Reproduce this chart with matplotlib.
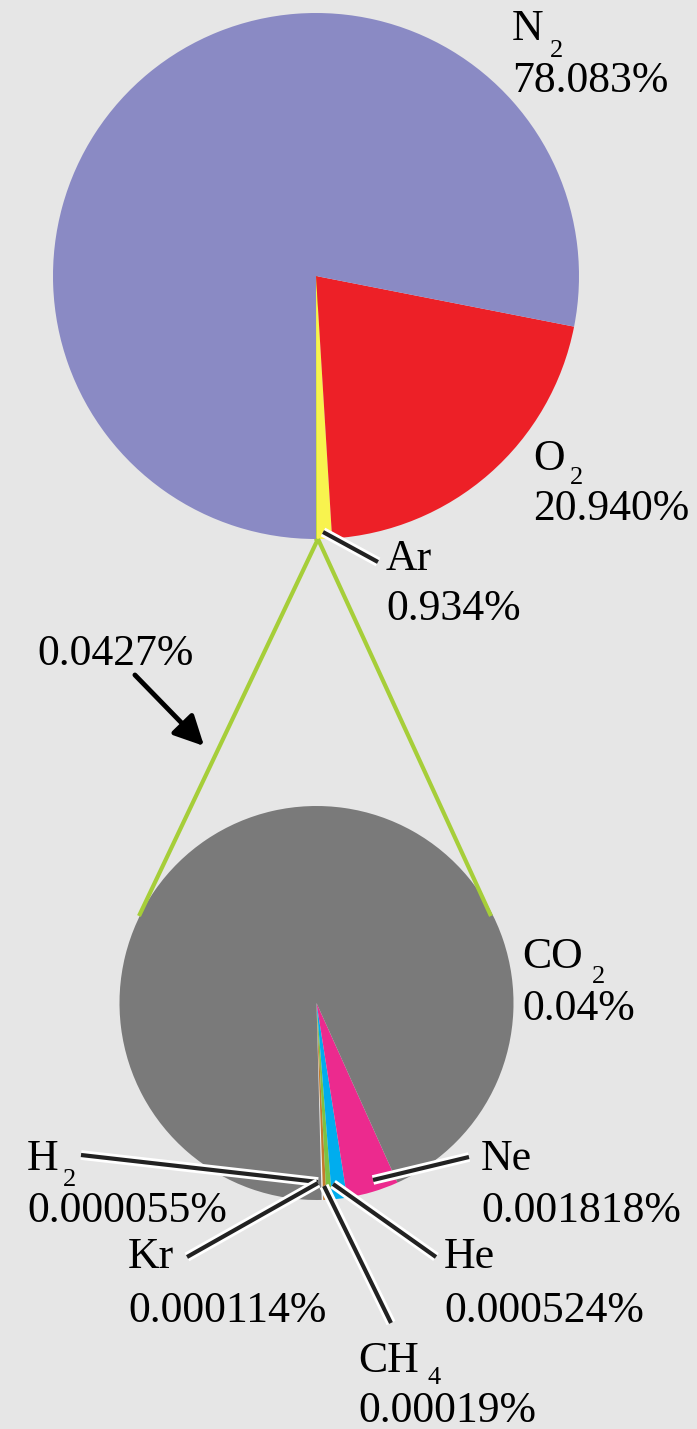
import matplotlib
matplotlib.use("Agg")
import matplotlib.pyplot as plt
import matplotlib.patheffects as pe
from matplotlib.patches import FancyArrowPatch

# Composition de l'air sec (% en volume)
gaz_principaux = ["traces", "Ar", "O2", "N2"]
part_principaux = [0.0427, 0.934, 20.940, 78.083]
coul_principaux = ["#a6ce39", "#f8f34e", "#ed2027", "#8a8ac4"]

gaz_traces = ["H2", "Kr", "CH4", "He", "Ne", "CO2"]
part_traces = [0.000055, 0.000114, 0.00019, 0.000524, 0.001818, 0.04]
coul_traces = ["#eeeeee", "#c47a2c", "#7dc242", "#00adee", "#ec2a8e", "#7a7a7a"]

# etiquettes : (symbole, indice, valeur)
etiq_principaux = [("N", "2", "78.083%"), ("O", "2", "20.940%"), ("Ar", "", "0.934%")]
etiq_traces = [("CO", "2", "0.04%"), ("Ne", "", "0.001818%"), ("He", "", "0.000524%"),
               ("CH", "4", "0.00019%"), ("Kr", "", "0.000114%"), ("H", "2", "0.000055%")]
etiq_zoom = "0.0427%"

W, H = 697, 1429
FOND = "#e6e6e6"
VERT = "#a6ce39"
POLICE = "Liberation Serif"


def Y(y):
    # coordonnees pixel (origine en haut) -> donnees
    return H - y


fig = plt.figure(figsize=(W / 100, H / 100), dpi=100, facecolor=FOND)
ax = fig.add_axes([0, 0, 1, 1])
ax.set_facecolor(FOND)

# camembert principal
w1, _ = ax.pie(part_principaux, colors=coul_principaux, startangle=-90,
               counterclock=True, center=(316, Y(276)), radius=263)
w1[0].set_edgecolor(VERT)
w1[0].set_linewidth(2.5)

# camembert des gaz traces
ax.pie(part_traces, colors=coul_traces, startangle=-88.5,
       counterclock=True, center=(316.5, Y(1003)), radius=197)

ax.set_xlim(0, W)
ax.set_ylim(0, H)
ax.set_aspect("auto")
ax.axis("off")

# lignes de zoom
for xf in (139, 491):
    ax.plot([318, xf], [Y(539), Y(916)], color=VERT, lw=3, solid_capstyle="butt", zorder=1)

# fleche
ax.add_patch(FancyArrowPatch((133, Y(673)), (206, Y(748)),
                             arrowstyle="-|>,head_length=1.0,head_width=0.5",
                             mutation_scale=18, lw=3.5, color="black"))

# traits de rappel
halo = [pe.Stroke(linewidth=7, foreground="white"), pe.Normal()]
traits = [((323, 532), (378, 562)),
          ((81, 1155), (318, 1182)),
          ((187, 1257), (318, 1183)),
          ((391, 1323), (324, 1186)),
          ((436, 1257), (333, 1184)),
          ((469, 1157), (373, 1180))]
for (xa, ya), (xb, yb) in traits:
    ax.plot([xa, xb], [Y(ya), Y(yb)], color="#222222", lw=3,
            solid_capstyle="butt", path_effects=halo, zorder=5)

TXT = dict(family=POLICE, fontsize=31.5, color="black", va="baseline", ha="left")
SUB = dict(family=POLICE, fontsize=19, color="black", va="baseline", ha="left")

# positions des etiquettes : (x, ligne symbole, x indice, ligne indice, ligne valeur)
pos_principaux = [(512, 40, 550, 57, 92), (533, 470, 570, 484, 520), (386, 570, 0, 0, 620)]
pos_traces = [(522, 968, 592, 983, 1020), (481, 1170, 0, 0, 1222), (444, 1268, 0, 0, 1322),
              (358, 1372, 428, 1384, 1422), (128, 1268, 0, 0, 1322), (27, 1170, 63, 1186, 1222)]

for (sym, ind, val), (x, ys, xi, yi, yv) in zip(etiq_principaux + etiq_traces,
                                               pos_principaux + pos_traces):
    ax.text(x, Y(ys), sym, **TXT)
    if ind:
        ax.text(xi, Y(yi), ind, **SUB)
    ax.text(x, Y(yv), val, **TXT)

ax.text(37, Y(665), etiq_zoom, **TXT)

fig.savefig("out.png", dpi=100, facecolor=FOND)
